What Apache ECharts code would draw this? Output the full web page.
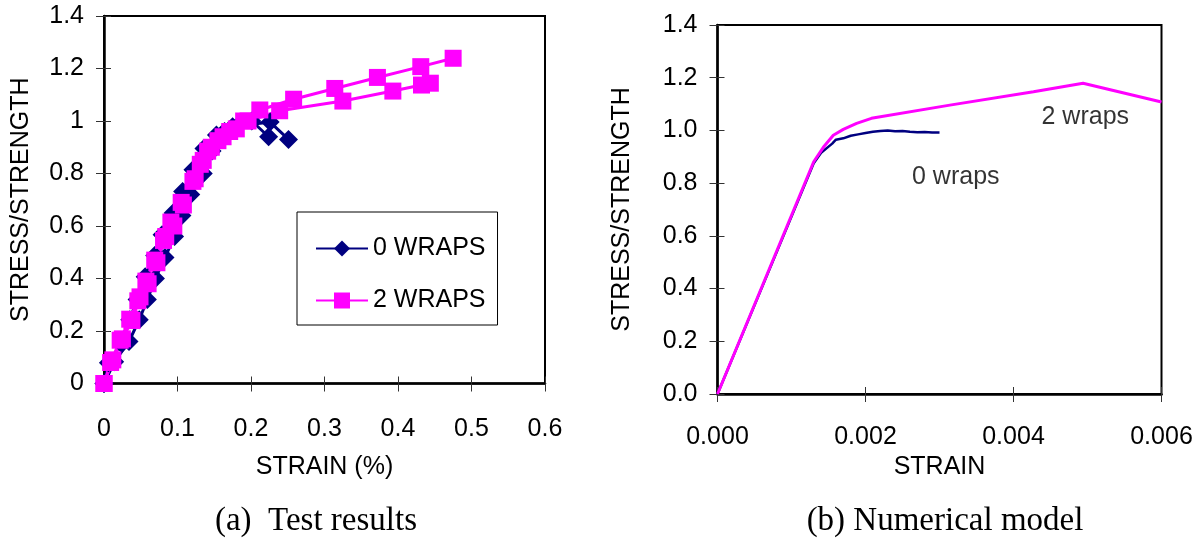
<!DOCTYPE html>
<html>
<head>
<meta charset="utf-8">
<script src="https://cdn.jsdelivr.net/npm/echarts@6/dist/echarts.min.js"></script>
<style>
  html, body { margin: 0; padding: 0; background: #fff; }
  #chart { width: 1203px; height: 540px; }
</style>
</head>
<body>
<div id="chart"></div>
<script>
// (a) test results: two specimens per wrap count
const test0aStrain = [0, 0.0145, 0.034, 0.048, 0.059, 0.070, 0.083, 0.096, 0.106, 0.118, 0.135, 0.147, 0.164, 0.185, 0.201, 0.224]
const test0aStress = [0, 0.083, 0.160, 0.243, 0.320, 0.400, 0.480, 0.560, 0.640, 0.720, 0.800, 0.886, 0.960, 0.990, 1.000, 0.940]
const test0bStrain = [0, 0.006, 0.024, 0.035, 0.045, 0.056, 0.069, 0.079, 0.094, 0.107, 0.121, 0.136, 0.153, 0.175, 0.226, 0.251]
const test0bStress = [0, 0.079, 0.151, 0.243, 0.320, 0.407, 0.488, 0.567, 0.650, 0.731, 0.814, 0.895, 0.947, 0.978, 0.996, 0.930]
const test2aStrain = [0, 0.009, 0.022, 0.035, 0.046, 0.057, 0.069, 0.081, 0.091, 0.105, 0.121, 0.131, 0.141, 0.155, 0.171, 0.190, 0.212, 0.258, 0.314, 0.372, 0.431, 0.475]
const test2aStress = [0, 0.080, 0.165, 0.245, 0.315, 0.390, 0.470, 0.545, 0.615, 0.690, 0.770, 0.835, 0.885, 0.925, 0.960, 1.000, 1.042, 1.083, 1.124, 1.166, 1.207, 1.239]
const test2bStrain = [0, 0.012, 0.025, 0.038, 0.049, 0.060, 0.072, 0.084, 0.095, 0.108, 0.124, 0.135, 0.146, 0.162, 0.180, 0.196, 0.239, 0.325, 0.393, 0.432, 0.444]
const test2bStress = [0, 0.090, 0.170, 0.240, 0.330, 0.380, 0.460, 0.560, 0.600, 0.680, 0.780, 0.850, 0.900, 0.940, 0.970, 1.000, 1.039, 1.076, 1.114, 1.137, 1.144]

// (b) numerical model
const model0Strain = [0, 0.0013, 0.0014, 0.00155, 0.0016, 0.0017, 0.0018, 0.0019, 0.0020, 0.0021, 0.0022, 0.0023, 0.0024, 0.0025, 0.0026, 0.0027, 0.0028, 0.0029, 0.0030]
const model0Stress = [0, 0.875, 0.915, 0.950, 0.965, 0.970, 0.980, 0.985, 0.990, 0.995, 0.998, 1.000, 0.997, 0.998, 0.995, 0.993, 0.994, 0.992, 0.992]
const model2Strain = [0, 0.0013, 0.00143, 0.001565, 0.0017, 0.00188, 0.00208, 0.00314, 0.00427, 0.00494, 0.0060]
const model2Stress = [0, 0.881, 0.936, 0.982, 1.004, 1.027, 1.046, 1.096, 1.147, 1.179, 1.108]

const modelLabels = ['0 wraps', '2 wraps']
const modelLabelStrain = [0.00322, 0.00497]
const modelLabelStress = [0.823, 1.051]

const legendNames = ['0 WRAPS', '2 WRAPS']
const captions = ['(a)  Test results', '(b) Numerical model']
const axisNames = { testX: 'STRAIN (%)', modelX: 'STRAIN', y: 'STRESS/STRENGTH' }

const zip = (xs, ys) => xs.map((x, i) => [x, ys[i]])

const NAVY = '#000080'
const PINK = '#ff00ff'
const FONT = 'Liberation Sans, Arial, sans-serif'
const SERIF = 'Liberation Serif, Times New Roman, serif'

const chart = echarts.init(document.getElementById('chart'))

const labelStyle = { color: '#000', fontSize: 25, fontFamily: FONT }

function mainX(grid, max, interval, name, formatter, margin, nameGap) {
  return {
    type: 'value', gridIndex: grid, min: 0, max: max, interval: interval, position: 'bottom',
    name: name, nameLocation: 'middle', nameGap: nameGap, nameTextStyle: labelStyle,
    axisLine: { show: true, onZero: false, lineStyle: { color: '#000', width: 2.5 } },
    axisTick: { show: true, length: 8, lineStyle: { color: '#333', width: 1 } },
    axisLabel: Object.assign({ margin: margin, formatter: formatter }, labelStyle),
    splitLine: { show: false }
  }
}
function innerX(grid, max, interval) {
  return {
    type: 'value', gridIndex: grid, min: 0, max: max, interval: interval, position: 'bottom',
    axisLine: { show: false }, axisLabel: { show: false }, splitLine: { show: false },
    axisTick: { show: true, inside: true, length: 7, lineStyle: { color: '#333', width: 1 } }
  }
}
function mainY(grid, formatter, nameGap) {
  return {
    type: 'value', gridIndex: grid, min: 0, max: 1.4, interval: 0.2, position: 'left',
    name: axisNames.y, nameLocation: 'middle', nameGap: nameGap, nameRotate: 90, nameTextStyle: labelStyle,
    axisLine: { show: true, onZero: false, lineStyle: { color: '#000', width: 2.5 } },
    axisTick: { show: true, length: 8, lineStyle: { color: '#333', width: 1 } },
    axisLabel: Object.assign({ margin: 20, formatter: formatter }, labelStyle),
    splitLine: { show: false }
  }
}
function innerY(grid) {
  return {
    type: 'value', gridIndex: grid, min: 0, max: 1.4, interval: 0.2, position: 'left',
    axisLine: { show: false }, axisLabel: { show: false }, splitLine: { show: false },
    axisTick: { show: true, inside: true, length: 7, lineStyle: { color: '#333', width: 1 } }
  }
}

function testSeries(name, data, symbol, size, color) {
  return {
    name: name, type: 'line', xAxisIndex: 0, yAxisIndex: 0, data: data,
    symbol: symbol, symbolSize: size, showAllSymbol: true,
    lineStyle: { color: color, width: 3 }, itemStyle: { color: color }
  }
}
function modelSeries(name, data, color, width) {
  return {
    name: name, type: 'line', xAxisIndex: 2, yAxisIndex: 2, data: data,
    showSymbol: false, symbol: 'none',
    lineStyle: { color: color, width: width }, itemStyle: { color: color }
  }
}

const option = {
  animation: false,
  backgroundColor: '#fff',
  textStyle: { fontFamily: FONT },
  title: [
    { text: captions[0], left: 311, top: 500, textAlign: 'center',
      textStyle: { fontFamily: SERIF, fontWeight: 'normal', fontSize: 33, color: '#000' } },
    { text: captions[1], left: 940, top: 500, textAlign: 'center',
      textStyle: { fontFamily: SERIF, fontWeight: 'normal', fontSize: 33, color: '#000' } }
  ],
  legend: {
    data: legendNames, orient: 'vertical', left: 297, top: 212,
    borderColor: '#000', borderWidth: 1, padding: [24, 12, 12, 18],
    itemWidth: 52, itemHeight: 20, itemGap: 27,
    textStyle: { color: '#000', fontSize: 25, fontFamily: FONT },
    selectedMode: false
  },
  grid: [
    { left: 104, top: 16, width: 441, height: 367.5, show: true, borderColor: '#000', borderWidth: 2, backgroundColor: 'transparent' },
    { left: 717.5, top: 25, width: 444, height: 369, show: true, borderColor: '#000', borderWidth: 2, backgroundColor: 'transparent' }
  ],
  xAxis: [
    mainX(0, 0.6, 0.1, axisNames.testX, v => String(+v.toFixed(1)), 33, 71),
    innerX(0, 0.6, 0.1),
    mainX(1, 0.006, 0.002, axisNames.modelX, v => v.toFixed(3), 31, 60),
    innerX(1, 0.006, 0.002)
  ],
  yAxis: [
    mainY(0, v => String(+v.toFixed(1)), 70),
    innerY(0),
    mainY(1, v => v.toFixed(1), 83),
    innerY(1)
  ],
  series: [
    testSeries(legendNames[0], zip(test0aStrain, test0aStress), 'diamond', 19, NAVY),
    testSeries(legendNames[0], zip(test0bStrain, test0bStress), 'diamond', 19, NAVY),
    testSeries(legendNames[1], zip(test2aStrain, test2aStress), 'rect', 17, PINK),
    testSeries(legendNames[1], zip(test2bStrain, test2bStress), 'rect', 17, PINK),
    modelSeries('model 0', zip(model0Strain, model0Stress), NAVY, 2.5),
    modelSeries('model 2', zip(model2Strain, model2Stress), PINK, 3),
    {
      type: 'scatter', xAxisIndex: 2, yAxisIndex: 2,
      data: modelLabels.map((t, i) => [modelLabelStrain[i], modelLabelStress[i], t]),
      symbolSize: 1, itemStyle: { color: '#fff' },
      label: { show: true, position: 'inside', formatter: p => p.value[2], color: '#000', fontSize: 25, fontFamily: FONT },
      silent: true
    }
  ]
}

chart.setOption(option)
</script>
</body>
</html>
